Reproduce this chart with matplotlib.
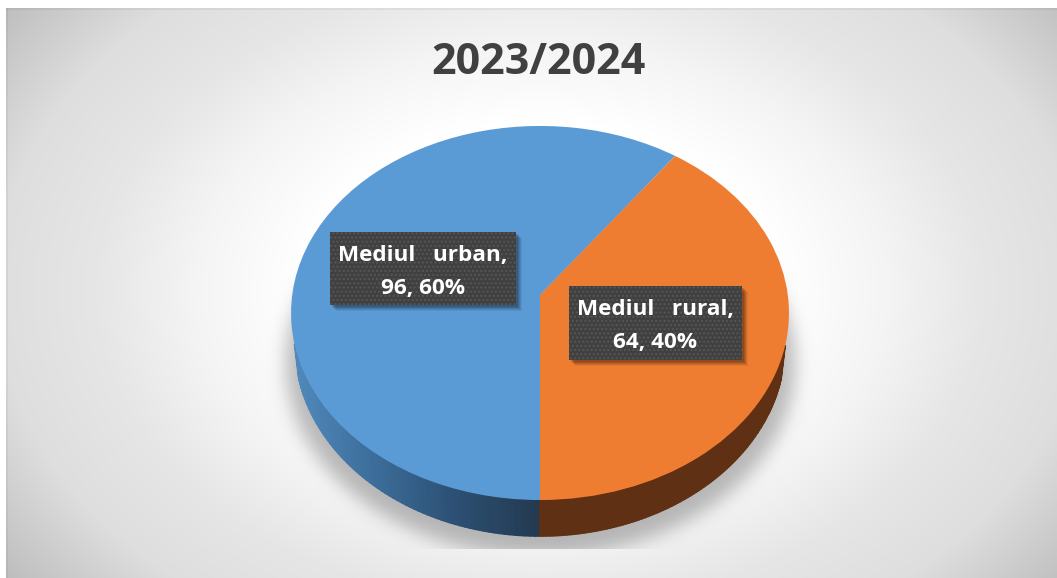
import numpy as np
import matplotlib
matplotlib.use('Agg')
import matplotlib.pyplot as plt
from matplotlib.collections import PolyCollection
from matplotlib.patches import Rectangle
from matplotlib.transforms import Transform

# data
title = '2023/2024'
categories = ['Mediul urban', 'Mediul rural']
values = [96, 64]
colors = ['#5b9bd5', '#ef7d31']

W, H = 1057, 578
# pie geometry, in pixels of the picture
CX, CY = 540, 295
A, C, K = 247.8, 185.3, 0.0962


class Tilt(Transform):
    # unit circle -> tilted disc seen in perspective
    input_dims = 2
    output_dims = 2

    def transform_non_affine(self, pts):
        pts = np.asarray(pts, dtype=float)
        d = 1 + K * pts[:, 1]
        return np.column_stack([CX + A * pts[:, 0] / d, CY - C * pts[:, 1] / d])


def lower_rim(rim):
    # the underside of the disc is a slightly narrower ellipse
    return np.column_stack([CX + (rim[:, 0] - CX) * 245 / 249, 345 + (rim[:, 1] - 313) * 191 / 187])


def blur(img, sigma):
    r = int(3 * sigma)
    g = np.exp(-0.5 * (np.arange(-r, r + 1) / sigma) ** 2)
    g = g / g.sum()
    img = np.apply_along_axis(lambda m: np.convolve(m, g, mode='same'), 0, img)
    return np.apply_along_axis(lambda m: np.convolve(m, g, mode='same'), 1, img)


# background: radial grey gradient
yy, xx = np.mgrid[0:H, 0:W]
rr = np.hypot((xx - 540) / 534, (yy - 290) / 380)
bg = np.interp(rr, [0, 0.45, 0.65, 0.83, 1.02, 1.25], [255, 255, 244, 230, 222, 190])

# soft shadow under the disc
sh = (((xx - 540) / 255) ** 2 + ((yy - 362) / 193) ** 2 < 1).astype(float)
sh = blur(sh, 9) * 0.26
edge = 250 + np.clip(yy - 310, 0, None) * 0.17
side = np.clip(1 - (np.abs(xx - 540) - 235) / (edge - 235 + 1e-6), 0, 1)
side = side * (yy > 300) * np.clip((yy - 300) / 60, 0, 1) * np.clip((432 - yy) / 40, 0, 1)
shadow = np.maximum(sh, side * 0.16)
shadow[yy > 548] = 0
bg = bg * (1 - shadow)
bg[:, :6] = 255
bg[:8, :] = 255
bg[8:10, 6:] = bg[8:10, 6:] * 0.95
bg[8:, 6:8] = bg[8:, 6:8] * 0.95

fig = plt.figure(figsize=(W / 100, H / 100), dpi=100)
ax = fig.add_axes([0, 0, 1, 1])
ax.imshow(np.dstack([bg / 255] * 3), extent=(0, W, H, 0), aspect='auto', zorder=0)

# side wall of the disc, only the front part can be seen
tilt = Tilt()
shares = np.array(values) / sum(values)
start = 270
wall_cmap = matplotlib.colors.LinearSegmentedColormap.from_list(
    'wall', ['#5088bb', '#3c6c99', '#2c4f72', '#233a50'])
for i, share in enumerate(shares):
    ang = np.radians(np.linspace(start, start - share * 360, 200))
    start = start - share * 360
    rim = tilt.transform(np.column_stack([np.cos(ang), np.sin(ang)]))
    low = lower_rim(rim)
    quads = []
    cols = []
    for j in range(len(rim) - 1):
        if rim[j][1] < 345:
            continue
        quads.append([rim[j], rim[j + 1], low[j + 1], low[j]])
        if i == 0:
            cols.append(wall_cmap(np.clip((rim[j][0] - 295) / 245, 0, 1)))
        else:
            cols.append('#5f3013')
    ax.add_collection(PolyCollection(quads, facecolors=cols, edgecolors=cols, linewidths=1.2, zorder=2))

# top of the disc
wedges, _ = ax.pie(values, colors=colors, startangle=270, counterclock=False)
for w in wedges:
    w.set_transform(tilt + ax.transData)
    w.set_zorder(3)

# data labels
boxes = [(330, 232, 186, 73), (569, 286, 173, 74)]
for cat, val, share, (bx, by, bw, bh) in zip(categories, values, shares, boxes):
    for off, al in [(7, 0.06), (6, 0.08), (5, 0.1), (4, 0.12), (3, 0.12)]:
        ax.add_patch(Rectangle((bx + off - 1, by + off - 1), bw, bh, fc='black', ec='none', alpha=al, zorder=4))
    ax.add_patch(Rectangle((bx, by), bw, bh, fc='#404040', ec='#565656', lw=0, hatch='....', zorder=5))
    lines = [cat.replace(' ', '   ') + ',', f'{val}, {share * 100:.0f}%']
    for line, dy in zip(lines, [28.5, 62]):
        ax.text(bx + bw / 2, by + dy, line, color='white', fontsize=16.2, fontweight='bold',
                family='Open Sans', ha='center', va='baseline', zorder=6)

ax.text(538, 63, title, color='#404040', fontsize=31, fontweight='bold', family='Open Sans',
        ha='center', va='center', zorder=6)

ax.set_aspect('auto')
ax.set_xlim(0, W)
ax.set_ylim(H, 0)
ax.axis('off')
fig.savefig('out.png', dpi=100)
